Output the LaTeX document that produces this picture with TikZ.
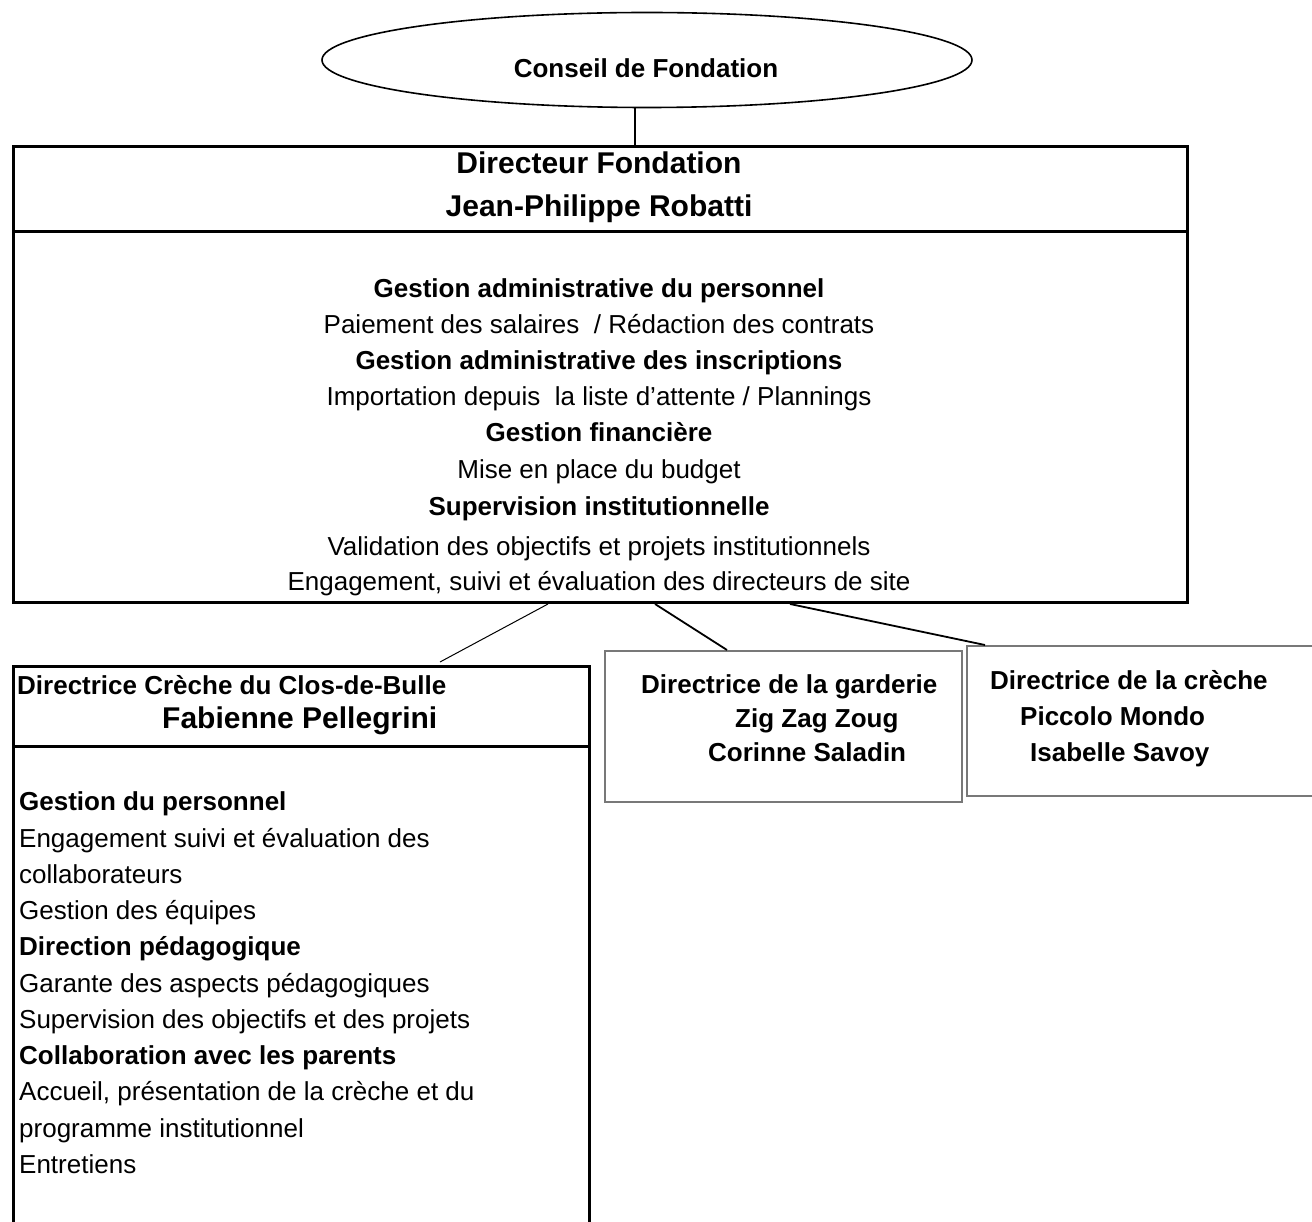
\documentclass[tikz,border=0pt]{standalone}
\usepackage{fontspec}
\setmainfont{Liberation Sans}
\usetikzlibrary{shapes.geometric,calc}
\definecolor{framegray}{RGB}{120,120,120}
\begin{document}
\begin{tikzpicture}[x=1pt,y=-1pt,
  txt/.style={font=\fontsize{26}{36}\selectfont, inner sep=0pt, anchor=base},
  txtb/.style={txt, font=\fontsize{26}{36}\selectfont\bfseries},
  big/.style={txt, font=\fontsize{30}{40}\selectfont\bfseries},
  ltxt/.style={txt, anchor=base west},
  ltxtb/.style={txtb, anchor=base west},
  lbig/.style={big, anchor=base west},
  frame/.style={draw, line width=3pt, inner sep=0pt, anchor=north west},
  grayframe/.style={draw=framegray, line width=2pt, inner sep=0pt, anchor=north west},
  divider/.style={line width=3pt},
  thinlink/.style={line width=1pt},
  link/.style={line width=1.8pt}]
\useasboundingbox (0,0) rectangle (1312,1222);
\clip (0,0) rectangle (1312,1222);

% top ellipse
\node[ellipse, draw, line width=1.6pt, minimum width=650, minimum height=95, inner sep=0pt] (conseil) at (647,60) {};
\node[txtb] (conseiltxt) at (646,78) {Conseil de Fondation};

% main box
\node[frame, minimum width=1174, minimum height=456] (main) at (12,145) {};
\draw[divider] (12,232) -- (1186,232);
\node[big] (dir1) at (599,174) {Directeur Fondation};
\node[big] (dir2) at (599,217) {Jean-Philippe Robatti};
\node[txtb] (m1) at (599,298) {Gestion administrative du personnel};
\node[txt]  (m2) at (599,334) {Paiement des salaires\ \ / Rédaction des contrats};
\node[txtb] (m3) at (599,370) {Gestion administrative des inscriptions};
\node[txt]  (m4) at (599,406) {Importation depuis\ \ la liste d’attente / Plannings};
\node[txtb] (m5) at (599,442) {Gestion financière};
\node[txt]  (m6) at (599,478) {Mise en place du budget};
\node[txtb] (m7) at (599,515) {Supervision institutionnelle};
\node[txt]  (m8) at (599,555) {Validation des objectifs et projets institutionnels};
\node[txt]  (m9) at (599,590) {Engagement, suivi et évaluation des directeurs de site};

% left box
\node[frame, minimum width=576, minimum height=620] (left) at (12,665) {};
\draw[divider] (12,746) -- (588,746);
\node[ltxtb] (l0) at (17,694) {Directrice Crèche du Clos-de-Bulle};
\node[lbig]  (l00) at (162,728) {Fabienne Pellegrini};
\node[ltxtb] (l1) at (19,810) {Gestion du personnel};
\node[ltxt]  (l2) at (19,847) {Engagement suivi et évaluation des};
\node[ltxt]  (l3) at (19,883) {collaborateurs};
\node[ltxt]  (l4) at (19,919) {Gestion des équipes};
\node[ltxtb] (l5) at (19,955) {Direction pédagogique};
\node[ltxt]  (l6) at (19,992) {Garante des aspects pédagogiques};
\node[ltxt]  (l7) at (19,1028) {Supervision des objectifs et des projets};
\node[ltxtb] (l8) at (19,1064) {Collaboration avec les parents};
\node[ltxt]  (l9) at (19,1100) {Accueil, présentation de la crèche et du};
\node[ltxt]  (l10) at (19,1137) {programme institutionnel};
\node[ltxt]  (l11) at (19,1173) {Entretiens};

% middle box
\node[grayframe, minimum width=357, minimum height=151] (mid) at (604,650) {};
\node[ltxtb] (g1) at (641,693) {Directrice de la garderie};
\node[ltxtb] (g2) at (735,727) {Zig Zag Zoug};
\node[ltxtb] (g3) at (708,761) {Corinne Saladin};

% right box
\node[grayframe, minimum width=370, minimum height=150] (right) at (966,645) {};
\node[ltxtb] (r1) at (990,689) {Directrice de la crèche};
\node[ltxtb] (r2) at (1020,725) {Piccolo Mondo};
\node[ltxtb] (r3) at (1030,761) {Isabelle Savoy};

% connectors
\draw[line width=1.4pt] ($(conseil.south)+(-12,0)$) -- ($(main.north west)+(623,0)$);
\draw[thinlink] ($(main.south west)+(536,0)$) -- ($(left.north west)+(428,-3)$);
\draw[link] ($(main.south west)+(643,0)$) -- ($(mid.north west)+(123,0)$);
\draw[link] ($(main.south west)+(778,0)$) -- ($(right.north west)+(19,0)$);
\end{tikzpicture}
\end{document}
